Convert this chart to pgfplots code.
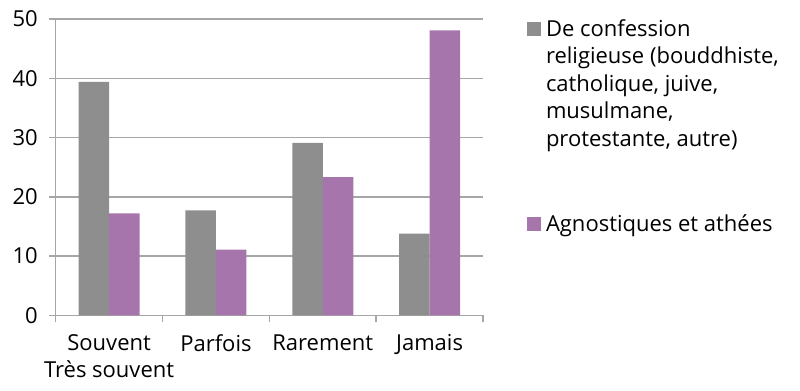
\documentclass[border=0pt]{standalone}
\usepackage{pgfplots}
\pgfplotsset{compat=1.18}
\usepackage{fontspec}
\setmainfont{Open Sans}
\definecolor{relig}{HTML}{8E8E8E}
\definecolor{agno}{HTML}{A675AB}
\definecolor{gridc}{HTML}{A6A6A6}
\newcommand{\chartfont}{\fontsize{22bp}{27.5bp}\selectfont}
\newcommand{\lt}[1]{\begin{tabular}[t]{@{}l@{}}#1\end{tabular}}
\begin{document}
\begin{tikzpicture}[x=1bp,y=1bp]
\begin{axis}[
  at={(0,0)}, anchor=south west,
  scale only axis, width=427.3bp, height=296.3bp,
  xmin=0.5, xmax=4.5, ymin=0, ymax=50,
  ytick={0,10,...,50},
  xtick={1,2,3,4},
  xticklabels={{Souvent\\Très souvent},Parfois,Rarement,Jamais},
  minor xtick={0.5,1.5,2.5,3.5,4.5},
  axis x line*=bottom, axis y line*=left,
  axis line style={gridc, line width=1.5bp, -},
  ymajorgrids, grid style={gridc, line width=1.5bp},
  tick align=outside,
  major tick length=6.5bp, minor tick length=7bp,
  major x tick style={draw=none},
  minor x tick style={gridc, line width=1.5bp},
  y tick style={gridc, line width=1.5bp},
  /pgf/number format/assume math mode=true,
  tick label style={font=\chartfont, text=black},
  xticklabel style={align=center, yshift=-9bp},
  yticklabel style={xshift=-8bp},
  ybar=0pt, bar width=30.5bp,
  enlarge x limits=false,
  legend style={draw=none, fill=none, inner sep=0pt, outer sep=0pt,
    at={(1.103,1)}, anchor=north west, yshift=4bp, font=\chartfont,
    cells={anchor=base west, inner sep=0pt},
    row sep=170.5bp, column sep=3bp},
]
\addplot[fill=relig, draw=none,
  legend image code/.code={\fill[relig] (0bp,0bp) rectangle (14bp,14bp);}]
  coordinates {(1,39.4) (2,17.7) (3,29.1) (4,13.8)};
\addplot[fill=agno, draw=none,
  legend image code/.code={\fill[agno] (0bp,0bp) rectangle (14bp,14bp);}]
  coordinates {(1,17.2) (2,11.1) (3,23.3) (4,48.1)};
\legend{{\lt{De confession\\religieuse (bouddhiste,\\catholique, juive,\\musulmane,\\protestante, autre)}},{\lt{Agnostiques et athées}}}
\end{axis}
\pgfresetboundingbox
\path[use as bounding box] (-55.7,-74.7) rectangle (744.3,315.3);
\end{tikzpicture}
\end{document}
